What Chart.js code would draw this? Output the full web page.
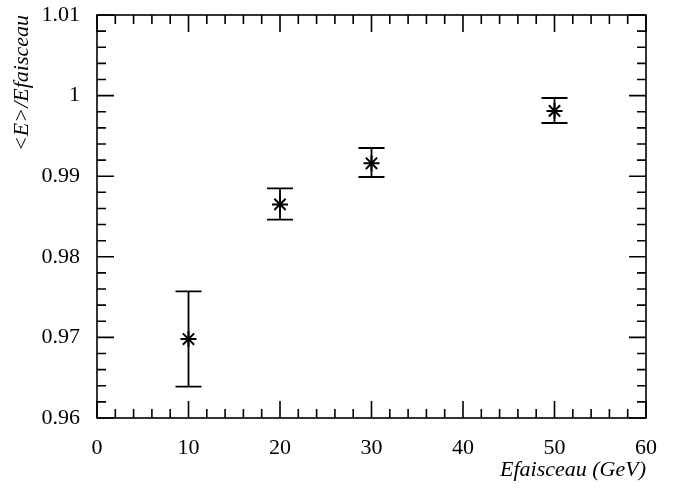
<!DOCTYPE html>
<html>
<head>
<meta charset="utf-8">
<script src="https://cdn.jsdelivr.net/npm/chart.js"></script>
<style>
  html, body { margin: 0; padding: 0; background: #fff; }
  #wrap { width: 675px; height: 494px; }
</style>
</head>
<body>
<div id="wrap"><canvas id="myChart" width="675" height="494"></canvas></div>
<script>
// beam energies (GeV) and measured <E>/Efaisceau
const energies = [10, 20, 30, 50];
const ratio    = [0.9698, 0.9865, 0.9916, 0.9981];
const errLow   = [0.9639, 0.9846, 0.9899, 0.9966];
const errHigh  = [0.9757, 0.9885, 0.9935, 0.9997];

const xMin = 0, xMax = 60, xStep = 2, xMajor = 10;
const yMin = 0.96, yMax = 1.01, yStep = 0.002, yMajor = 0.01;

function isMajor(v, m){
	var q = v / m;
	return Math.abs(q - Math.round(q)) < 1e-4;
}

// error bars drawn through the scales
const errorBars = {
	id: 'errorBars',
	afterDatasetsDraw(chart){
		var ctx = chart.ctx, xs = chart.scales.x, ys = chart.scales.y;
		ctx.save();
		ctx.strokeStyle = '#000';
		ctx.lineWidth = 1.8;
		for(var i = 0; i < energies.length; i++){
			var px = xs.getPixelForValue(energies[i]);
			var lo = ys.getPixelForValue(errLow[i]);
			var hi = ys.getPixelForValue(errHigh[i]);
			var half = 13;
			ctx.beginPath();
			ctx.moveTo(px, lo); ctx.lineTo(px, hi);
			ctx.moveTo(px - half, lo); ctx.lineTo(px + half, lo);
			ctx.moveTo(px - half, hi); ctx.lineTo(px + half, hi);
			ctx.stroke();
		}
		ctx.restore();
	}
};

// box frame with inward ticks on all four sides
const frame = {
	id: 'frame',
	afterDraw(chart){
		var ctx = chart.ctx, a = chart.chartArea;
		var xs = chart.scales.x, ys = chart.scales.y;
		ctx.save();
		ctx.strokeStyle = '#000';
		ctx.lineWidth = 1.6;
		ctx.strokeRect(a.left, a.top, a.right - a.left, a.bottom - a.top);
		ctx.beginPath();
		for(var t of xs.ticks){
			var px = xs.getPixelForValue(t.value);
			var len = isMajor(t.value, xMajor) ? 17 : 9;
			ctx.moveTo(px, a.bottom); ctx.lineTo(px, a.bottom - len);
			ctx.moveTo(px, a.top); ctx.lineTo(px, a.top + len);
		}
		for(var t of ys.ticks){
			var py = ys.getPixelForValue(t.value);
			var len = isMajor(t.value, yMajor) ? 17 : 9;
			ctx.moveTo(a.left, py); ctx.lineTo(a.left + len, py);
			ctx.moveTo(a.right, py); ctx.lineTo(a.right - len, py);
		}
		ctx.stroke();
		ctx.restore();
	}
};

var ctx = document.getElementById('myChart').getContext('2d');
var myChart = new Chart(ctx, {
	type: 'scatter',
	data: {
		datasets: [{
			data: energies.map((e, i) => ({x: e, y: ratio[i]})),
			pointStyle: 'star',
			pointRadius: 8,
			borderColor: '#000',
			backgroundColor: '#000',
			borderWidth: 2
		}]
	},
	options: {
		animation: false,
		responsive: false,
		layout: { padding: { left: 0, top: 15, right: 29, bottom: 0 } },
		plugins: { legend: { display: false }, tooltip: { enabled: false } },
		scales: {
			x: {
				type: 'linear', min: xMin, max: xMax,
				grid: { display: false, drawTicks: false },
				border: { display: false },
				afterFit: s => { s.height = 76; s.paddingLeft = 0; s.paddingRight = 0; },
				ticks: {
					stepSize: xStep, autoSkip: false, maxTicksLimit: 100, maxRotation: 0,
					padding: 17, color: '#000',
					font: { family: 'Liberation Serif', size: 22 },
					callback: v => isMajor(v, xMajor) ? String(Math.round(v)) : ''
				},
				title: {
					display: true, text: 'Efaisceau (GeV)', align: 'end', color: '#000',
					padding: { top: 0, bottom: 11 },
					font: { family: 'Liberation Serif', size: 22, style: 'italic' }
				}
			},
			y: {
				type: 'linear', min: yMin, max: yMax,
				grid: { display: false, drawTicks: false },
				border: { display: false },
				afterFit: s => { s.width = 97; s.paddingTop = 0; s.paddingBottom = 0; },
				ticks: {
					stepSize: yStep, autoSkip: false, maxTicksLimit: 100,
					padding: 17, color: '#000',
					font: { family: 'Liberation Serif', size: 22 },
					callback: v => isMajor(v, yMajor) ? String(+v.toFixed(2)) : ''
				},
				title: {
					display: true, text: '<E>/Efaisceau', align: 'end', color: '#000',
					padding: { top: 9, bottom: 0 },
					font: { family: 'Liberation Serif', size: 22, style: 'italic' }
				}
			}
		}
	},
	plugins: [errorBars, frame]
});
</script>
</body>
</html>
